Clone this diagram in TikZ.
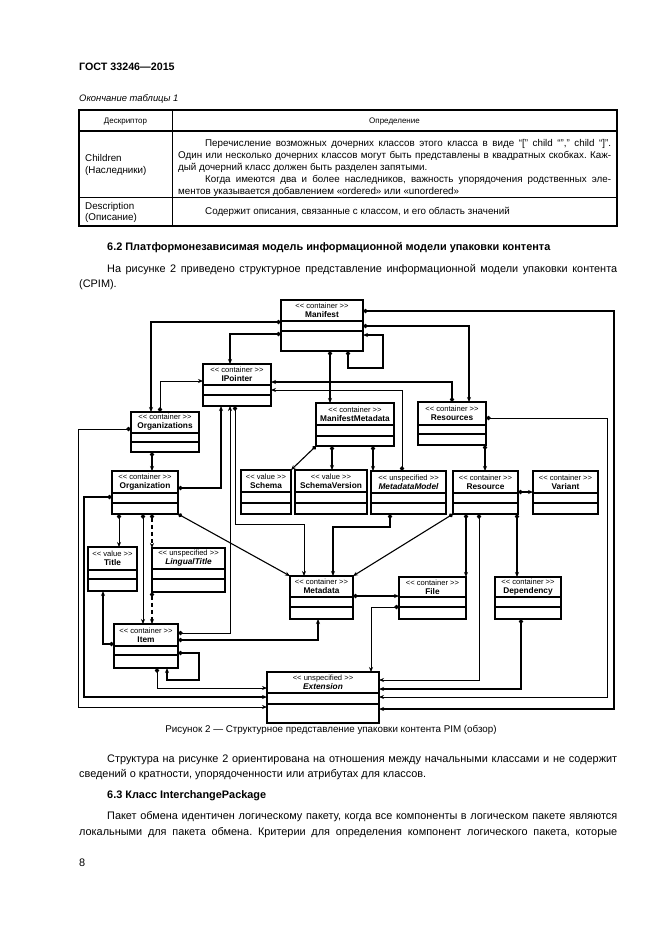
\documentclass[tikz,border=0pt]{standalone}
\usepackage{fontspec}
\setmainfont{Liberation Sans}
\usetikzlibrary{arrows.meta}
\frenchspacing
\newcommand\bodyf{\fontsize{10.9}{12}\selectfont}
\newcommand\tabf{\fontsize{9.8}{11}\selectfont}
\newcommand\smf{\fontsize{8}{9}\selectfont}
\newcommand\nm[1]{{\fontsize{8.3}{9}\selectfont\bfseries #1}}
\newcommand\nmi[1]{{\fontsize{8.3}{9}\selectfont\bfseries\itshape #1}}
\newcommand\stc{<{}< container >{}>}
\newcommand\stv{<{}< value >{}>}
\newcommand\stu{<{}< unspecified >{}>}
\newcommand\ucls[9]{%
  \node[cls, minimum width={#4-#2}, minimum height={#5-#3}] (#1) at (#2,#3) {};
  \draw[dv] (#2,#6) -- (#4,#6) (#2,#7) -- (#4,#7);
  \node[st] (#1-t) at ({(#2+#4)/2},{(#3+#6)/2}) {#8\\#9};
}
\begin{document}
\frenchspacing
\begin{tikzpicture}[x=1pt,y=-1pt,
  cls/.style={draw, line width=1.4pt, inner sep=0, outer sep=0, anchor=north west, fill=white},
  dv/.style={line width=1.2pt},
  st/.style={font=\fontsize{7.6}{9}\selectfont, align=center, inner sep=0},
  tips/.style={arrows={Diamond[length=5pt,width=4.5pt]-Stealth[length=5pt,width=4pt]}},
  cn/.style={line width=1.5pt, tips},
  mn/.style={line width=1.1pt, tips},
  tn/.style={line width=0.8pt, tips},
  dn/.style={line width=1.5pt, dash pattern=on 4pt off 3pt, tips},
  tx/.style={anchor=base west, inner sep=0},
  tc/.style={anchor=base, inner sep=0},
]
\useasboundingbox (0,0) rectangle (661,935);
\fill[white] (0,0) rectangle (661,935);

% ---------- header ----------
\node[tx,font=\fontsize{10.7}{12}\selectfont\bfseries] (hdr) at (79,70) {ГОСТ 33246—2015};
\node[tx,font=\fontsize{9.4}{11}\selectfont\itshape] (tcont) at (79,101.5) {Окончание таблицы 1};

% ---------- table ----------
\draw[line width=0.8pt] (172,110) -- (172,226) (79,197) -- (617,197);
\draw[line width=1.4pt] (79,131) -- (617,131);
\draw[line width=1.4pt] (79,110) rectangle (617,226);
\node[tc,font=\smf] (th1) at (125.5,123) {Дескриптор};
\node[tc,font=\smf] (th2) at (394.5,123) {Определение};
\node[tx,font=\tabf] (c1a) at (85,161.5) {Children};
\node[tx,font=\tabf] (c1b) at (85,173.5) {(Наследники)};
\node[tx,font=\tabf] (r1) at (205,146.5) {\makebox[406pt][s]{Перечисление возможных дочерних классов этого класса в виде “[” child “”,” child “]”.}};
\node[tx,font=\tabf] (r2) at (178,158.5) {\makebox[433pt][s]{Один или несколько дочерних классов могут быть представлены в квадратных скобках. Каж-}};
\node[tx,font=\tabf] (r3) at (178,170.5) {дый дочерний класс должен быть разделен запятыми.};
\node[tx,font=\tabf] (r4) at (205,182.5) {\makebox[406pt][s]{Когда имеются два и более наследников, важность упорядочения родственных эле-}};
\node[tx,font=\tabf] (r5) at (178,194) {ментов указывается добавлением «ordered» или «unordered»};
\node[tx,font=\tabf] (d1a) at (85,209.5) {Description};
\node[tx,font=\tabf] (d1b) at (85,220.5) {(Описание)};
\node[tx,font=\tabf] (d2) at (205,214.5) {Содержит описания, связанные с классом, и его область значений};

% ---------- section 6.2 ----------
\node[tx,font=\bodyf\bfseries] (h62) at (107,250) {6.2 Платформонезависимая модель информационной модели упаковки контента};
\node[tx,font=\bodyf] (p1) at (107,272) {\makebox[510pt][s]{На рисунке 2 приведено структурное представление информационной модели упаковки контента}};
\node[tx,font=\bodyf] (p2) at (79,287) {(CPIM).};

% ---------- diagram classes ----------
\ucls{M}{281}{300}{363}{351}{321}{331}{\stc}{\nm{Manifest}}
\ucls{IP}{203}{364}{271}{406}{385}{395}{\stc}{\nm{IPointer}}
\ucls{OS}{131}{412}{199}{452}{433}{442}{\stc}{\nm{Organizations}}
\ucls{O}{112}{471}{178}{514}{493}{503}{\stc}{\nm{Organization}}
\ucls{T}{88}{547}{137}{591}{570}{579}{\stv}{\nm{Title}}
\ucls{LT}{152}{548}{225}{592}{569}{579}{\stu}{\nmi{LingualTitle}}
\ucls{I}{114}{624}{178}{668}{646}{655}{\stc}{\nm{Item}}
\ucls{MD}{290}{576}{353}{619}{597}{607}{\stc}{\nm{Metadata}}
\ucls{F}{399}{577}{466}{619}{597}{607}{\stc}{\nm{File}}
\ucls{D}{495}{577}{561}{619}{597}{607}{\stc}{\nm{Dependency}}
\ucls{E}{267}{672}{379}{723}{693}{704}{\stu}{\nmi{Extension}}
\ucls{MM}{316}{403}{394}{446}{425}{436}{\stc}{\nm{ManifestMetadata}}
\ucls{RS}{418}{402}{486}{445}{425}{434}{\stc}{\nm{Resources}}
\ucls{S}{241}{470}{291}{514}{492}{503}{\stv}{\nm{Schema}}
\ucls{SV}{295}{470}{367}{514}{492}{503}{\stv}{\nm{SchemaVersion}}
\ucls{MDM}{371}{471}{446}{514}{493}{503}{\stu}{\nmi{MetadataModel}}
\ucls{R}{453}{471}{518}{514}{493}{503}{\stc}{\nm{Resource}}
\ucls{V}{533}{471}{598}{514}{493}{503}{\stc}{\nm{Variant}}

% ---------- connectors ----------
\draw[cn] (M.west |- 0,322) -- (151,322) -- (151,0 |- OS.north);
\draw[cn] (M.west |- 0,334) -- (230,334) -- (230,0 |- IP.north);
\draw[tn] (160,0 |- OS.north) -- (160,381) -- (IP.west |- 0,381);
\draw[mn] (330,0 |- M.south) -- (330,0 |- MM.north);
\draw[cn] (348,0 |- M.south) -- (348,368) -- (383,368) -- (383,335) -- (M.east |- 0,335);
\draw[cn] (452,0 |- RS.north) -- (452,382) -- (IP.east |- 0,382);
\draw[tn] (402,0 |- MDM.north) -- (402,390) -- (IP.east |- 0,390);
\draw[cn] (M.east |- 0,311) -- (614,311) -- (614,709) -- (E.east |- 0,709);
\draw[cn] (M.east |- 0,326) -- (469,326) -- (469,0 |- RS.north);
\draw[tn] (RS.east |- 0,418) -- (607,418) -- (607,697) -- (E.east |- 0,697);
\draw[cn] (O.east |- 0,488) -- (221,488) -- (221,0 |- IP.south);
\draw[tn] (I.east |- 0,633) -- (230,633) -- (230,0 |- IP.south);
\draw[tn] (235,0 |- IP.south) -- (235,524) -- (304,524) -- (304,0 |- MD.north);
\draw[cn] (390,0 |- MDM.south) -- (390,527) -- (333,527) -- (333,0 |- MD.north);
\draw[mn] (O.south east) -- (MD.north west);
\draw[mn] (R.south west) -- (MD.north east);
\draw[cn] (MD.east |- 0,596) -- (F.west |- 0,596);
\draw[tn] (F.west |- 0,607) -- (371,607) -- (371,0 |- E.north);
\draw[cn] (I.east |- 0,640) -- (318,640) -- (318,0 |- MD.south);
\draw[cn] (I.east |- 0,653) -- (199,653) -- (199,680) -- (167,680) -- (167,0 |- I.south);
\draw[tn] (157,0 |- I.south) -- (157,688) -- (E.west |- 0,688);
\draw[mn] (O.west |- 0,497) -- (84,497) -- (84,697) -- (E.west |- 0,697);
\draw[tn] (OS.west |- 0,429) -- (78,429) -- (78,707) -- (E.west |- 0,707);
\draw[cn] (152,0 |- OS.south) -- (152,0 |- O.north);
\draw[tn] (119,0 |- O.south) -- (119,0 |- T.north);
\draw[tn] (143,0 |- O.south) -- (143,0 |- I.north);
\draw[dn] (152,0 |- O.south) -- (LT.north west);
\draw[dn] (LT.south west) -- (152,0 |- I.north);
\draw[cn] (I.west |- 0,644) -- (103,644) -- (103,0 |- T.south);
\draw[cn] (521,0 |- D.south) -- (521,689) -- (E.east |- 0,689);
\draw[cn] (466,0 |- R.south) -- (466,0 |- F.north);
\draw[tn] (479,0 |- R.south) -- (479,680) -- (E.east |- 0,680);
\draw[cn] (517,0 |- R.south) -- (517,0 |- D.north);
\draw[cn] (R.east |- 0,492) -- (V.west |- 0,492);
\draw[cn] (485,0 |- RS.south) -- (485,0 |- R.north);
\draw[mn] (MM.south west) -- (S.north east);
\draw[cn] (332,0 |- MM.south) -- (332,0 |- SV.north);
\draw[cn] (373,0 |- MM.south) -- (373,0 |- MDM.north);

% ---------- caption and text ----------
\node[tc,font=\tabf] (cap) at (331,732.5) {Рисунок 2 — Структурное представление упаковки контента PIM (обзор)};
\node[tx,font=\bodyf] (p3) at (107,762) {\makebox[510pt][s]{Структура на рисунке 2 ориентирована на отношения между начальными классами и не содержит}};
\node[tx,font=\bodyf] (p4) at (79,777) {сведений о кратности, упорядоченности или атрибутах для классов.};
\node[tx,font=\bodyf\bfseries] (h63) at (107,798) {6.3 Класс InterchangePackage};
\node[tx,font=\bodyf] (p5) at (107,819) {\makebox[510pt][s]{Пакет обмена идентичен логическому пакету, когда все компоненты в логическом пакете являются}};
\node[tx,font=\bodyf] (p6) at (79,835) {\makebox[538pt][s]{локальными для пакета обмена. Критерии для определения компонент логического пакета, которые}};
\node[tx,font=\bodyf] (pg) at (79,866) {8};
\end{tikzpicture}
\end{document}
